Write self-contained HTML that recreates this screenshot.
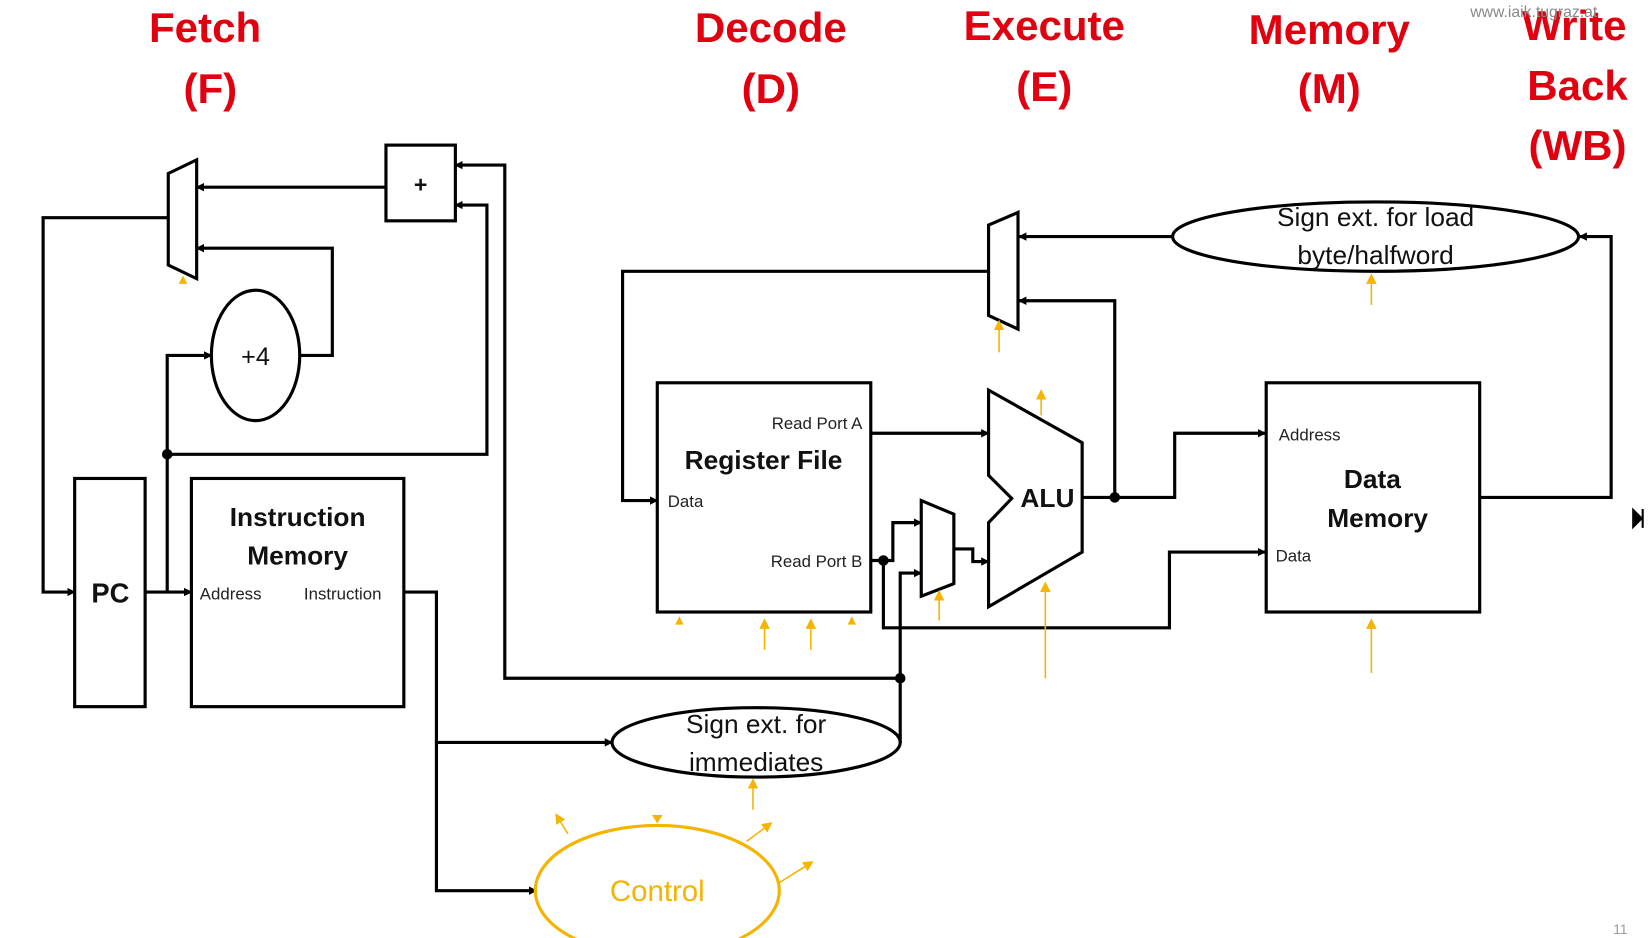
<!DOCTYPE html>
<html><head><meta charset="utf-8"><style>
html,body{margin:0;padding:0;background:#fff;}
svg{display:block;}
text{font-family:"Liberation Sans",sans-serif;}
</style></head><body>
<svg width="1649" height="938" viewBox="0 0 1568 892" preserveAspectRatio="none" xmlns="http://www.w3.org/2000/svg">
<defs>
<marker id="a" markerWidth="8" markerHeight="8" refX="7" refY="4" orient="auto" markerUnits="userSpaceOnUse"><path d="M0,0 L8,4 L0,8 z" fill="#000"/></marker>
<marker id="o" markerWidth="10" markerHeight="10" refX="8" refY="5" orient="auto" markerUnits="userSpaceOnUse"><path d="M0,0 L10,5 L0,10 z" fill="#f4b400"/></marker>
</defs>
<!-- titles -->
<g fill="#e0000f" font-weight="bold" font-size="40" text-anchor="middle">
<text x="195" y="40">Fetch</text><text x="200" y="98">(F)</text>
<text x="733" y="40">Decode</text><text x="733" y="98">(D)</text>
<text x="993" y="38">Execute</text><text x="993" y="96">(E)</text>
<text x="1264" y="42">Memory</text><text x="1264" y="98">(M)</text>
<text x="1497" y="38">Write</text><text x="1500" y="95">Back</text><text x="1500" y="152">(WB)</text>
</g>
<text x="1398" y="16" font-size="15" fill="#888">www.iaik.tugraz.at</text>
<text x="1534" y="888" font-size="13" fill="#999">11</text>
<path d="M1553,485 L1561,493 L1553,501 z M1562,484 V502" fill="#000" stroke="#000" stroke-width="2"/>

<g fill="none" stroke="#000" stroke-width="3">
<!-- fetch -->
<polygon points="160,165 187,152 187,265 160,252" fill="#fff"/>
<path d="M160,207 H41 V563 H71" marker-end="url(#a)"/>
<rect x="367" y="138" width="66" height="72"/>
<path d="M367,178 H187" marker-end="url(#a)"/>
<path d="M856,645 H480 V157 H433" marker-end="url(#a)"/>
<path d="M159,432 H463 V195 H433" marker-end="url(#a)"/>
<ellipse cx="243" cy="338" rx="42" ry="62"/>
<path d="M159,563 V338 H201" marker-end="url(#a)"/>
<path d="M285,338 H316 V236 H187" marker-end="url(#a)"/>
<rect x="71" y="455" width="67" height="217"/>
<path d="M138,563 H182" marker-end="url(#a)"/>
<rect x="182" y="455" width="202" height="217"/>
<path d="M384,563 H415 V847 H510" marker-end="url(#a)"/>
<path d="M415,706 H582" marker-end="url(#a)"/>
<ellipse cx="719" cy="706" rx="137" ry="33"/>
<path d="M856,706 V545 H876" marker-end="url(#a)"/>
<!-- decode -->
<rect x="625" y="364" width="203" height="218"/>
<path d="M940,258 H592 V476 H625" marker-end="url(#a)"/>
<path d="M828,412 H940" marker-end="url(#a)"/>
<path d="M828,533 H849 V497 H876" marker-end="url(#a)"/>
<path d="M840,533 V597 H1112 V525 H1203" marker-end="url(#a)"/>
<polygon points="876,476 907,489 907,555 876,567" fill="#fff"/>
<path d="M907,522 H925 V534 H940" marker-end="url(#a)"/>
<polygon points="940,371 1029,421 1029,525 940,577 940,497 962,474 940,452" fill="#fff"/>
<path d="M1029,473 H1060 V286 H969" marker-end="url(#a)"/>
<path d="M1060,473 H1117 V412 H1203" marker-end="url(#a)"/>
<polygon points="940,214 968,202 968,313 940,300" fill="#fff"/>
<path d="M1115,225 H969" marker-end="url(#a)"/>
<ellipse cx="1308" cy="225" rx="193" ry="33"/>
<rect x="1204" y="364" width="203" height="218"/>
<path d="M1407,473 H1532 V225 H1502" marker-end="url(#a)"/>
</g>
<g fill="#000">
<circle cx="159" cy="432" r="5"/><circle cx="856" cy="645" r="5"/><circle cx="840" cy="533" r="5"/><circle cx="1060" cy="473" r="5"/>
</g>
<!-- labels -->
<g fill="#111" text-anchor="middle">
<text x="243" y="347" font-size="24">+4</text>
<text x="400" y="183" font-size="22" font-weight="bold">+</text>
<text x="105" y="573" font-size="26" font-weight="bold">PC</text>
<text x="283" y="500" font-size="25" font-weight="bold">Instruction</text>
<text x="283" y="537" font-size="25" font-weight="bold">Memory</text>
<text x="726" y="446" font-size="25" font-weight="bold">Register File</text>
<text x="996" y="482" font-size="25" font-weight="bold">ALU</text>
<text x="1305" y="464" font-size="25" font-weight="bold">Data</text>
<text x="1310" y="501" font-size="25" font-weight="bold">Memory</text>
<text x="719" y="697" font-size="25">Sign ext. for</text>
<text x="719" y="733" font-size="25">immediates</text>
<text x="1308" y="215" font-size="25">Sign ext. for load</text>
<text x="1308" y="251" font-size="25">byte/halfword</text>
</g>
<g fill="#222" font-size="16">
<text x="190" y="570">Address</text>
<text x="289" y="570">Instruction</text>
<text x="820" y="408" text-anchor="end">Read Port A</text>
<text x="820" y="539" text-anchor="end">Read Port B</text>
<text x="635" y="482">Data</text>
<text x="1216" y="419">Address</text>
<text x="1213" y="534">Data</text>
</g>
<!-- control -->
<g fill="none" stroke="#f4b400" stroke-width="1.5">
<path d="M1304,290 V262" marker-end="url(#o)"/>
<path d="M1304,640 V590" marker-end="url(#o)"/>
<path d="M950,335 V306" marker-end="url(#o)"/>
<path d="M990,395 V372" marker-end="url(#o)"/>
<path d="M994,645 V555" marker-end="url(#o)"/>
<path d="M893,590 V563" marker-end="url(#o)"/>
<path d="M727,618 V590" marker-end="url(#o)"/>
<path d="M771,618 V590" marker-end="url(#o)"/>
<path d="M716,770 V742" marker-end="url(#o)"/>
<path d="M540,793 L529,775" marker-end="url(#o)"/>
<path d="M710,800 L733,783" marker-end="url(#o)"/>
<path d="M740,840 L772,820" marker-end="url(#o)"/>
<ellipse cx="625" cy="847" rx="116" ry="62" stroke-width="3"/>
</g>
<g fill="#f4b400">
<path d="M170,270 L174,262 L178,270 z"/>
<path d="M642,594 L646,586 L650,594 z"/>
<path d="M806,594 L810,586 L814,594 z"/>
<path d="M620,775 L630,775 L625,783 z"/>
</g>
<text x="625" y="857" font-size="28" fill="#f4b400" text-anchor="middle">Control</text>
</svg>
</body></html>
